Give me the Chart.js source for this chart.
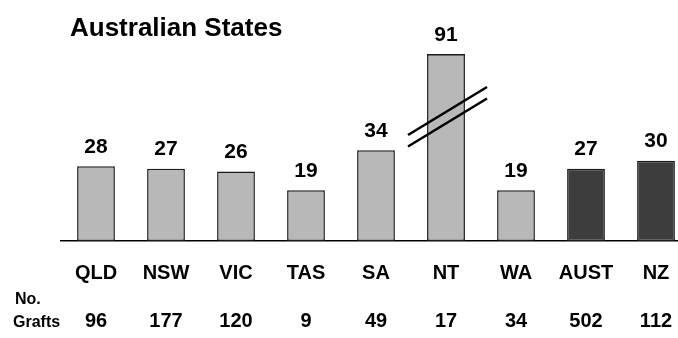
<!DOCTYPE html>
<html>
<head>
<meta charset="utf-8">
<script src="https://cdn.jsdelivr.net/npm/chart.js@4.4.1/dist/chart.umd.min.js"></script>
<style>
  html, body { margin: 0; padding: 0; background: #fff; overflow: hidden; }
  #wrap { position: relative; width: 678px; height: 338px; overflow: hidden; }
  #box { position: absolute; left: 0; top: 0; width: 700px; height: 338px; }
</style>
</head>
<body>
<div id="wrap"><div id="box"><canvas id="c"></canvas></div></div>
<script>
// Regions shown along the axis
const categories = ['QLD', 'NSW', 'VIC', 'TAS', 'SA', 'NT', 'WA', 'AUST', 'NZ'];
// Value printed above each bar
const rates = [28, 27, 26, 19, 34, 91, 19, 27, 30];
// Number of grafts per region (row under the axis)
const grafts = [96, 177, 120, 9, 49, 17, 34, 502, 112];
// Individual states vs. national totals
const groups = ['state', 'state', 'state', 'state', 'state', 'state', 'state', 'total', 'total'];
// Top of the value axis; taller bars are cut and marked with a break
const axisCeiling = 70;

const FONT = '"Liberation Sans", Arial, Helvetica, sans-serif';
const fillFor = { state: '#b8b8b8', total: '#3d3d3d' };

const annotate = {
  id: 'annotate',
  afterDatasetsDraw(chart) {
    const { ctx, chartArea } = chart;
    const meta = chart.getDatasetMeta(0);
    ctx.save();
    ctx.fillStyle = '#000';

    // heading
    ctx.font = 'bold 26px ' + FONT;
    ctx.textAlign = 'left';
    ctx.textBaseline = 'alphabetic';
    ctx.fillText('Australian States', 70, 36);

    meta.data.forEach((bar, i) => {
      const { x: bx, y: by, width } = bar.getProps(['x', 'y', 'width'], true);
      const top = Math.max(by, chartArea.top);

      if (by < chartArea.top) {
        // cut bar: outline its top edge and draw the axis-break slashes
        ctx.strokeStyle = '#1a1a1a';
        ctx.lineWidth = 1.5;
        ctx.beginPath();
        ctx.moveTo(bx - width / 2, chartArea.top + 0.75);
        ctx.lineTo(bx + width / 2, chartArea.top + 0.75);
        ctx.stroke();

        ctx.strokeStyle = '#000';
        ctx.lineWidth = 2.6;
        [57, 68.5].forEach(off => {
          const cy = chartArea.top + off;
          ctx.beginPath();
          ctx.moveTo(bx - 38, cy + 24);
          ctx.lineTo(bx + 41, cy - 24);
          ctx.stroke();
        });
      }

      ctx.fillStyle = '#000';
      ctx.textAlign = 'center';
      ctx.font = 'bold 21px ' + FONT;
      ctx.fillText(String(rates[i]), bx, top - 13.5);

      ctx.font = 'bold 20px ' + FONT;
      ctx.fillText(String(grafts[i]), bx, 327);
    });

    ctx.textAlign = 'left';
    ctx.font = 'bold 16px ' + FONT;
    ctx.fillText('No.', 15, 304);
    ctx.fillText('Grafts', 13, 327);
    ctx.restore();
  }
};

new Chart(document.getElementById('c'), {
  type: 'bar',
  data: {
    labels: categories,
    datasets: [{
      data: rates,
      backgroundColor: groups.map(g => fillFor[g]),
      borderColor: '#1a1a1a',
      borderWidth: 1.5,
      borderSkipped: false,
      barPercentage: 0.54,
      categoryPercentage: 1,
      clip: 0
    }]
  },
  options: {
    responsive: true,
    maintainAspectRatio: false,
    animation: false,
    events: [],
    layout: { padding: { top: 54, left: 61, right: 9, bottom: 0 } },
    plugins: {
      legend: { display: false },
      tooltip: { enabled: false },
      title: { display: false }
    },
    scales: {
      x: {
        grid: { display: false, drawTicks: false },
        border: { display: true, color: '#000', width: 1.5 },
        ticks: {
          color: '#000',
          padding: 20,
          maxRotation: 0,
          autoSkip: false,
          font: { family: FONT, size: 20, weight: 'bold' }
        },
        afterFit(scale) { scale.height = 97; }
      },
      y: {
        display: false,
        min: 0,
        max: axisCeiling
      }
    }
  },
  plugins: [annotate]
});
</script>
</body>
</html>
